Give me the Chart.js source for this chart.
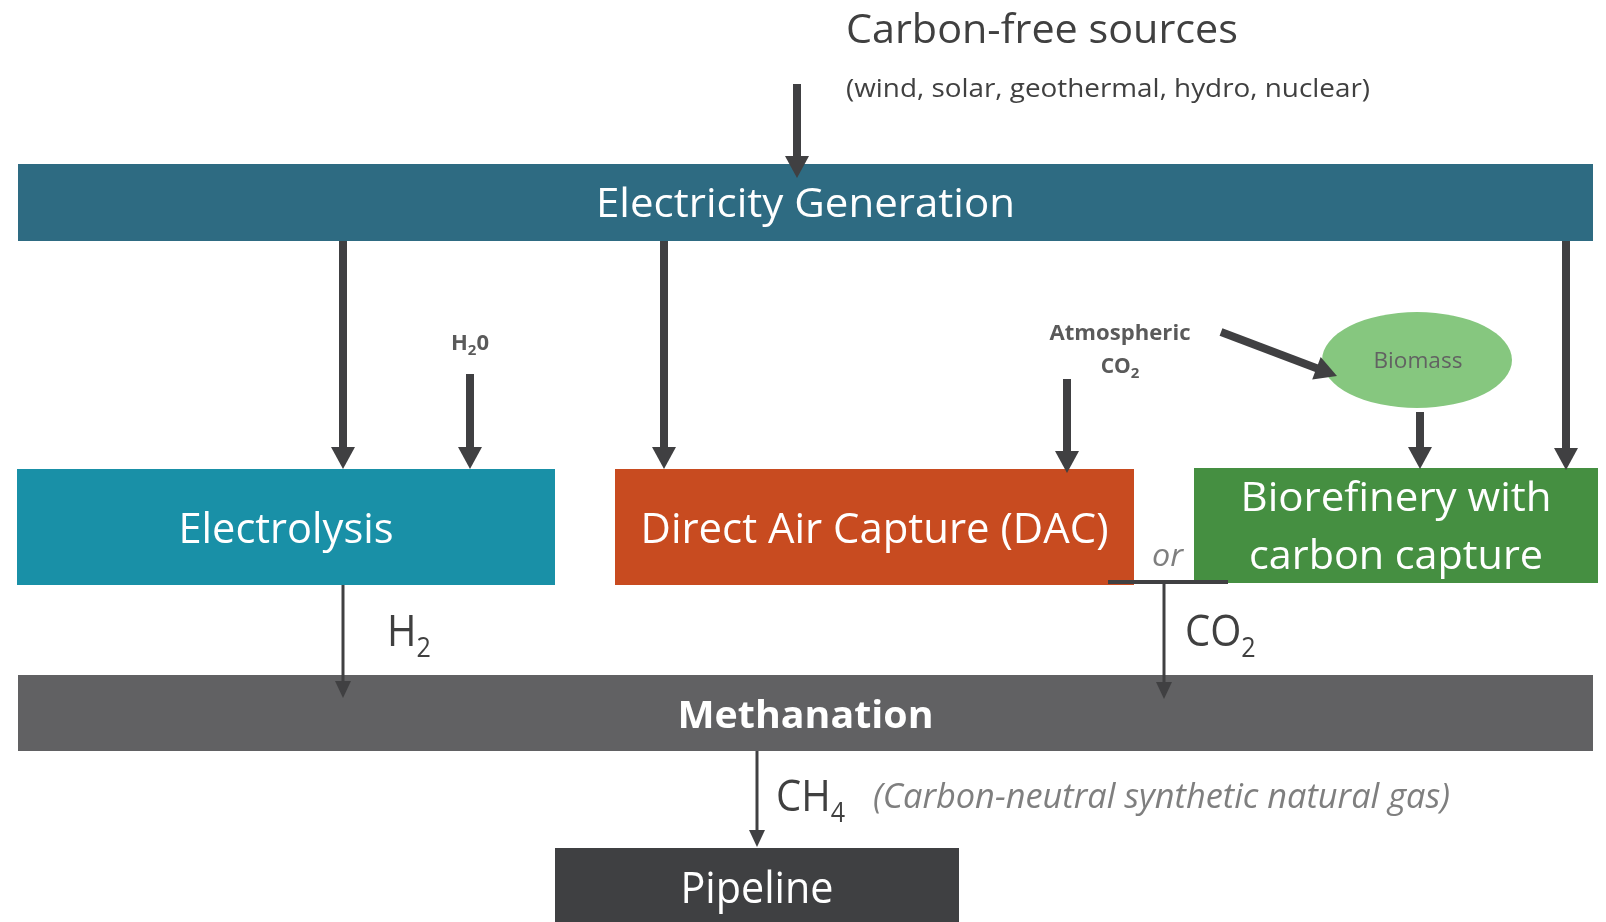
<!DOCTYPE html>
<html><head><meta charset="utf-8">
<script src="https://cdn.jsdelivr.net/npm/chart.js@4.4.1/dist/chart.umd.min.js"></script>
<style>html,body{margin:0;padding:0;background:#fff;overflow:hidden}#wrap{width:1606px;height:922px;position:relative}</style>
</head><body><div id="wrap"><canvas id="c"></canvas></div>
<script>
// ---- Diagram content (text) ----
const stages = ['Electricity Generation', 'Electrolysis', 'Direct Air Capture (DAC)', 'Biorefinery with|carbon capture', 'Methanation', 'Pipeline'];
const sourceTitle = 'Carbon-free sources';
const sourceNote = '(wind, solar, geothermal, hydro, nuclear)';
const inputs = [['H', '2', '0'], ['CO', '2', ''], ['Biomass', '', '']];
const products = [['H', '2'], ['CO', '2'], ['CH', '4']];
const productNote = '(Carbon-neutral synthetic natural gas)';
const alternativeWord = 'or';
const atmosphericWord = 'Atmospheric';

// ---- Layout (diagram units, axis 0..1606 x 0..922) ----
const stageBoxes = [
  {x0: 18, x1: 1593, y0: 164, y1: 241, fill: '#2E6B82', size: 41, weight: '400', base: [217], w: [419]},
  {x0: 17, x1: 555, y0: 469, y1: 585, fill: '#1990A7', size: 42, weight: '400', base: [543], w: [215]},
  {x0: 615, x1: 1134, y0: 469, y1: 585, fill: '#C84B20', size: 42, weight: '400', base: [543], w: [468]},
  {x0: 1194, x1: 1598, y0: 468, y1: 583, fill: '#458F41', size: 40, weight: '400', base: [511, 569], w: [311, 294]},
  {x0: 18, x1: 1593, y0: 675, y1: 751, fill: '#616163', size: 37, weight: '700', base: [728], w: [256]},
  {x0: 555, x1: 959, y0: 848, y1: 930, fill: '#3F4042', size: 43, weight: '400', base: [903], w: [153]}
];
const thickArrows = [
  [797, 84, 797, 178], [343, 241, 343, 469], [664, 241, 664, 469], [1566, 241, 1566, 470],
  [470, 374, 470, 469], [1067, 379, 1067, 473], [1221, 332, 1337, 376], [1420, 412, 1420, 469]
];
const thinArrows = [[343, 585, 343, 698], [1164, 584, 1164, 699], [757, 751, 757, 847]];
const productPos = [[387, 646], [1185, 646], [776, 811]];

const DARK = '#404042';
const FONT = '"Open Sans", "Noto Sans", sans-serif';

function drawText(ctx, text, x, y, font, color, align, targetW) {
  ctx.save();
  ctx.font = font; ctx.fillStyle = color; ctx.textBaseline = 'alphabetic';
  const m = ctx.measureText(text).width;
  const sx = targetW ? targetW / m : 1;
  const w = m * sx;
  let left = x;
  if (align === 'center') left = x - w / 2;
  else if (align === 'right') left = x - w;
  ctx.translate(left, y); ctx.scale(sx, 1);
  ctx.textAlign = 'left';
  ctx.fillText(text, 0, 0);
  ctx.restore();
  return w;
}
function subText(ctx, parts, x, y, size, weight, color, align, subSize, subDrop, sx) {
  ctx.save();
  sx = sx || 1;
  const f1 = weight + ' ' + size + 'px ' + FONT, f2 = weight + ' ' + subSize + 'px ' + FONT;
  ctx.font = f1; const w1 = ctx.measureText(parts[0]).width;
  ctx.font = f2; const w2 = parts[1] ? ctx.measureText(parts[1]).width : 0;
  ctx.font = f1; const w3 = parts[2] ? ctx.measureText(parts[2]).width : 0;
  const tot = (w1 + w2 + w3) * sx;
  let left = align === 'center' ? x - tot / 2 : x;
  ctx.translate(left, y); ctx.scale(sx, 1);
  ctx.fillStyle = color; ctx.textAlign = 'left'; ctx.textBaseline = 'alphabetic';
  ctx.font = f1; ctx.fillText(parts[0], 0, 0);
  if (parts[1]) { ctx.font = f2; ctx.fillText(parts[1], w1, subDrop); }
  if (parts[2]) { ctx.font = f1; ctx.fillText(parts[2], w1 + w2, 0); }
  ctx.restore();
}
function arrow(ctx, x1, y1, x2, y2, w, hw, hl, color) {
  const dx = x2 - x1, dy = y2 - y1, L = Math.hypot(dx, dy);
  const ux = dx / L, uy = dy / L, px = -uy, py = ux;
  const bx = x2 - ux * hl, by = y2 - uy * hl;
  ctx.save();
  ctx.strokeStyle = color; ctx.fillStyle = color; ctx.lineWidth = w; ctx.lineCap = 'butt';
  ctx.beginPath(); ctx.moveTo(x1, y1); ctx.lineTo(bx + ux, by + uy); ctx.stroke();
  ctx.beginPath();
  ctx.moveTo(x2, y2);
  ctx.lineTo(bx + px * hw / 2, by + py * hw / 2);
  ctx.lineTo(bx - px * hw / 2, by - py * hw / 2);
  ctx.closePath(); ctx.fill();
  ctx.restore();
}

const diagramPlugin = {
  id: 'diagram',
  afterDraw(chart) {
    const ctx = chart.ctx, X = v => chart.scales.x.getPixelForValue(v), Y = v => chart.scales.y.getPixelForValue(v);
    // top source text
    drawText(ctx, sourceTitle, X(846), Y(43), '400 41px ' + FONT, '#404040', 'left', 392);
    drawText(ctx, sourceNote, X(846), Y(97), '400 25px ' + FONT, '#404040', 'left', 524);
    // stage boxes
    stageBoxes.forEach((b, i) => {
      const x0 = X(b.x0), x1 = X(b.x1), y0 = Y(b.y0), y1 = Y(b.y1);
      ctx.fillStyle = b.fill;
      ctx.fillRect(x0, y0, x1 - x0, y1 - y0);
      const lines = stages[i].split('|');
      const cx = (x0 + x1) / 2;
      lines.forEach((ln, k) => drawText(ctx, ln, cx, Y(b.base[k]), b.weight + ' ' + b.size + 'px ' + FONT, '#FFFFFF', 'center', b.w[k]));
    });
    // biomass ellipse
    ctx.save();
    ctx.fillStyle = '#86C77F';
    ctx.beginPath();
    ctx.ellipse(X(1417), Y(360), X(1512) - X(1417), Math.abs(Y(408) - Y(360)), 0, 0, Math.PI * 2);
    ctx.fill();
    ctx.restore();
    drawText(ctx, inputs[2][0], X(1418), Y(368), '400 21px ' + FONT, '#626262', 'center', 89);
    // input labels
    subText(ctx, inputs[0], X(470), Y(350), 22, '700', '#5A5A5A', 'center', 15, 5);
    drawText(ctx, atmosphericWord, X(1120), Y(340), '700 21px ' + FONT, '#5A5A5A', 'center', 141);
    subText(ctx, inputs[1], X(1120), Y(373), 21, '700', '#5A5A5A', 'center', 15, 5);
    // arrows
    thickArrows.forEach(a => arrow(ctx, X(a[0]), Y(a[1]), X(a[2]), Y(a[3]), 8, 24, 22, DARK));
    thinArrows.forEach(a => arrow(ctx, X(a[0]), Y(a[1]), X(a[2]), Y(a[3]), 3, 16, 17, DARK));
    // "or" junction line
    ctx.save();
    ctx.strokeStyle = DARK; ctx.lineWidth = 4;
    ctx.beginPath(); ctx.moveTo(X(1108), Y(582)); ctx.lineTo(X(1228), Y(582)); ctx.stroke();
    ctx.restore();
    drawText(ctx, alternativeWord, X(1152), Y(566), 'italic 400 31px ' + FONT, '#7F7F7F', 'left', 31);
    // product labels
    products.forEach((p, i) => subText(ctx, p, X(productPos[i][0]), Y(productPos[i][1]), 43, '400', '#404040', 'left', 27, 11, 0.93));
    drawText(ctx, productNote, X(873), Y(808), 'italic 400 35px ' + FONT, '#7F7F7F', 'left', 577);
  }
};

new Chart(document.getElementById('c'), {
  type: 'scatter',
  data: {datasets: [{data: []}]},
  options: {
    responsive: true, maintainAspectRatio: false, animation: false,
    layout: {padding: 0},
    plugins: {legend: {display: false}, tooltip: {enabled: false}},
    scales: {
      x: {type: 'linear', min: 0, max: 1606, display: false},
      y: {type: 'linear', min: 0, max: 922, reverse: true, display: false}
    }
  },
  plugins: [diagramPlugin]
});
</script></body></html>
